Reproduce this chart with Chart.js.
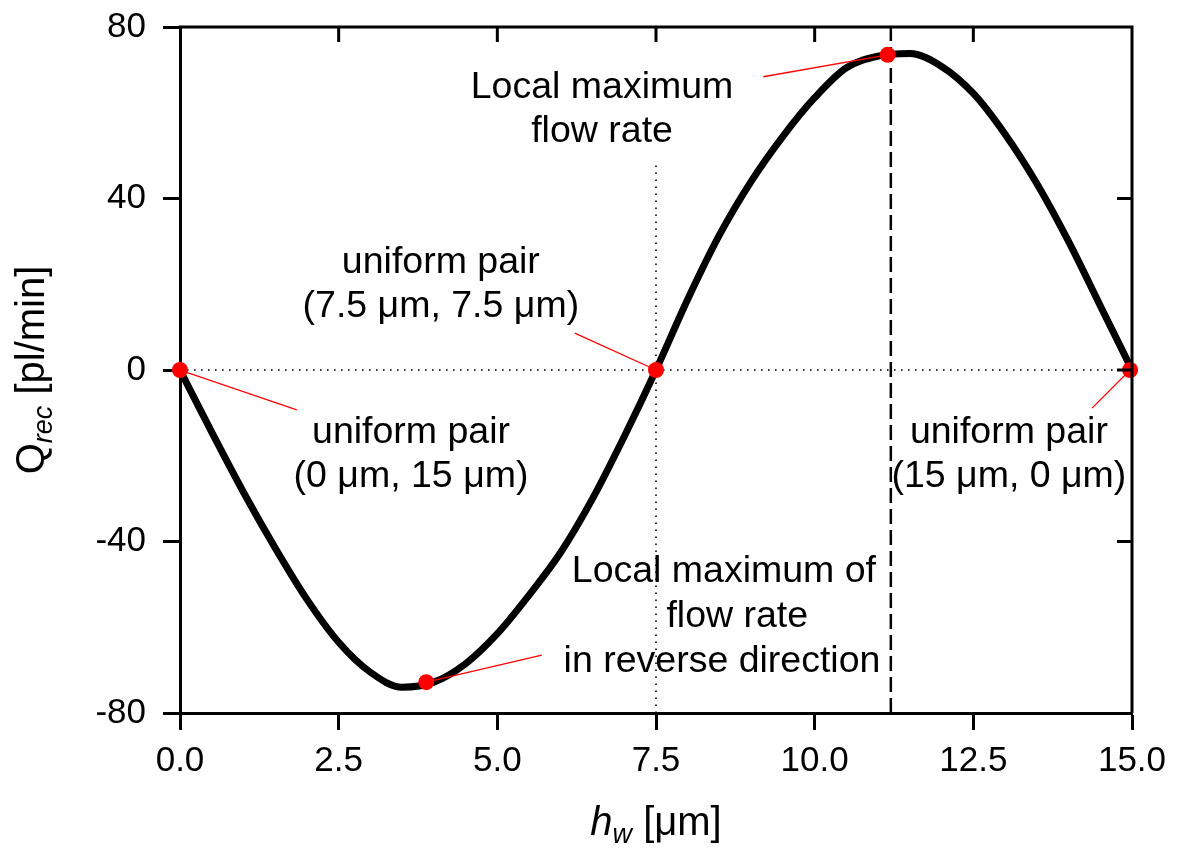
<!DOCTYPE html>
<html>
<head>
<meta charset="utf-8">
<script src="https://cdn.jsdelivr.net/npm/chart.js@4.4.1/dist/chart.umd.min.js"></script>
<style>
  body { margin: 0; background: #fff; }
  #wrap { width: 1179px; height: 851px; }
</style>
</head>
<body>
<div id="wrap"><canvas id="chart"></canvas></div>
<script>
// curve
const hw   = [0, 0.5, 1.0, 1.5, 2.0, 2.5, 3.0, 3.5, 4.0, 4.5, 5.0, 5.5, 6.0, 6.5, 7.0, 7.5,
              8.0, 8.5, 9.0, 9.5, 10.0, 10.5, 11.0, 11.5, 12.0, 12.5, 13.0, 13.5, 14.0, 14.5, 15.0];
const qrec = [0, -14.5, -28.5, -41.5, -53.5, -63.5, -70.5, -74, -72.8, -68.5, -61.5, -52.5, -42.5, -30, -15.5, 0,
              16.5, 31.5, 44, 54.5, 63.5, 70.5, 73.2, 73.8, 70.8, 64.5, 55, 43.5, 30, 15, 0];

// marked points (red dots)
const markH = [0, 3.88, 7.5, 11.15, 14.97];
const markQ = [0, -72.8, 0, 73.5, 0];

// far end of each red leader line
const leadH = [1.84, 5.70, 6.22, 9.19, 14.37];
const leadQ = [-9.3, -66.5, 8.6, 68.4, -8.9];

// annotation lines and their anchors (centre, baseline) in data units
const noteText = ['Local maximum', 'flow rate', 'uniform pair', '(7.5 μm, 7.5 μm)',
                  'uniform pair', '(0 μm, 15 μm)', 'uniform pair', '(15 μm, 0 μm)',
                  'Local maximum of', 'flow rate', 'in reverse direction'];
const noteH = [6.65, 6.65, 4.11, 4.11, 3.64, 3.64, 13.06, 13.06, 8.57, 8.78, 8.54];
const noteQ = [63.4, 53.2, 22.6, 12.4, -17.0, -27.3, -17.0, -27.3, -49.4, -59.9, -70.4];

const xTicks = [0, 2.5, 5, 7.5, 10, 12.5, 15];
const yTicks = [-80, -40, 0, 40, 80];
const dashH = 11.2;   // dashed vertical line
const dotTopQ = 48;   // where the dotted line at 7.5 stops

const FONT = '"Liberation Sans", Arial, sans-serif';

const curve = hw.map((h, i) => ({x: h, y: qrec[i]}));
const marks = markH.map((h, i) => ({x: h, y: markQ[i]}));

const leaderSets = markH.map((h, i) => ({
    data: [{x: h, y: markQ[i]}, {x: leadH[i], y: leadQ[i]}],
    showLine: true, borderColor: '#ff0000', borderWidth: 1.3,
    pointRadius: 0, order: 1
}));

const frameAndText = {
    id: 'frameAndText',
    afterDraw(chart) {
        const ctx = chart.ctx;
        const a = chart.chartArea;
        const xs = chart.scales.x, ys = chart.scales.y;
        ctx.save();
        // top and right frame with inward ticks
        ctx.strokeStyle = '#000';
        ctx.lineWidth = 3;
        ctx.beginPath();
        ctx.moveTo(a.left - 1.5, a.top);
        ctx.lineTo(a.right, a.top);
        ctx.lineTo(a.right, a.bottom);
        xTicks.slice(1, -1).forEach(v => {
            const px = xs.getPixelForValue(v);
            ctx.moveTo(px, a.top);
            ctx.lineTo(px, a.top + 15);
        });
        yTicks.slice(1, -1).forEach(v => {
            const py = ys.getPixelForValue(v);
            ctx.moveTo(a.right, py);
            ctx.lineTo(a.right - 15, py);
        });
        ctx.stroke();

        // annotations
        ctx.fillStyle = '#000';
        ctx.font = '37.5px ' + FONT;
        ctx.textAlign = 'center';
        ctx.textBaseline = 'alphabetic';
        noteText.forEach((t, i) => {
            ctx.fillText(t, xs.getPixelForValue(noteH[i]), ys.getPixelForValue(noteQ[i]));
        });

        // x axis title: h_w [μm]
        const parts = [
            {t: 'h', f: 'italic 40px ' + FONT, dy: 0},
            {t: 'w', f: 'italic 27px ' + FONT, dy: 8},
            {t: ' [μm]', f: '40px ' + FONT, dy: 0}
        ];
        drawParts(ctx, parts, (a.left + a.right) / 2, 835);

        // y axis title: Q_rec [pl/min]
        ctx.translate(44, (a.top + a.bottom) / 2);
        ctx.rotate(-Math.PI / 2);
        const yparts = [
            {t: 'Q', f: '40px ' + FONT, dy: 0},
            {t: 'rec', f: 'italic 27px ' + FONT, dy: 8},
            {t: ' [pl/min]', f: '40px ' + FONT, dy: 0}
        ];
        drawParts(ctx, yparts, 0, 0);
        ctx.restore();
    }
};

function drawParts(ctx, parts, cx, baseY) {
    let total = 0;
    parts.forEach(p => { ctx.font = p.f; p.w = ctx.measureText(p.t).width; total += p.w; });
    let x = cx - total / 2;
    ctx.textAlign = 'left';
    parts.forEach(p => {
        ctx.font = p.f;
        ctx.fillText(p.t, x, baseY + p.dy);
        x += p.w;
    });
}

new Chart(document.getElementById('chart').getContext('2d'), {
    type: 'scatter',
    data: {
        datasets: [
            {   // red markers
                data: marks, pointRadius: 8, pointHoverRadius: 8,
                backgroundColor: '#ff0000', borderColor: '#ff0000', borderWidth: 0,
                clip: false, order: 0
            },
            ...leaderSets,
            {   // main curve
                data: curve, showLine: true, borderColor: '#000', borderWidth: 7,
                pointRadius: 0, cubicInterpolationMode: 'monotone', order: 2
            },
            {   // dotted zero line
                data: [{x: 0, y: 0}, {x: 15, y: 0}], showLine: true,
                borderColor: '#000', borderWidth: 1.6, borderDash: [1.6, 5.4],
                pointRadius: 0, order: 3
            },
            {   // dotted line at 7.5
                data: [{x: 7.5, y: -80}, {x: 7.5, y: dotTopQ}], showLine: true,
                borderColor: '#000', borderWidth: 1.6, borderDash: [1.6, 5.4],
                pointRadius: 0, order: 3
            },
            {   // dashed line through the maximum
                data: [{x: dashH, y: -80}, {x: dashH, y: 80}], showLine: true,
                borderColor: '#000', borderWidth: 2.5, borderDash: [15, 6],
                pointRadius: 0, order: 3
            }
        ]
    },
    options: {
        responsive: true,
        maintainAspectRatio: false,
        animation: false,
        events: [],
        layout: { padding: { top: 27, right: 47, left: 0, bottom: 0 } },
        plugins: {
            legend: { display: false },
            tooltip: { enabled: false }
        },
        scales: {
            x: {
                type: 'linear', min: 0, max: 15,
                afterFit(s) { s.height = 138; s.paddingLeft = 0; s.paddingRight = 0; },
                afterBuildTicks(s) { s.ticks = xTicks.map(v => ({value: v})); },
                border: { color: '#000', width: 3 },
                grid: { drawOnChartArea: false, color: '#000', tickLength: 17, tickWidth: 3 },
                ticks: {
                    color: '#000', font: { size: 35, family: FONT }, padding: 10,
                    maxRotation: 0, callback: v => v.toFixed(1)
                }
            },
            y: {
                type: 'linear', min: -80, max: 80,
                afterFit(s) { s.width = 180; s.paddingTop = 0; s.paddingBottom = 0; },
                afterBuildTicks(s) { s.ticks = yTicks.map(v => ({value: v})); },
                border: { color: '#000', width: 3 },
                grid: { drawOnChartArea: false, color: '#000', tickLength: 17, tickWidth: 3 },
                ticks: { color: '#000', font: { size: 35, family: FONT }, padding: 17 }
            }
        }
    },
    plugins: [frameAndText]
});
</script>
</body>
</html>
